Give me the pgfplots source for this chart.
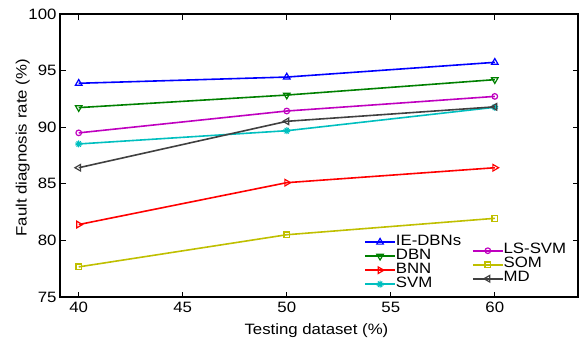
\documentclass[border=0pt]{standalone}
\usepackage{fontspec}
\setmainfont{Liberation Sans}[FakeStretch=1.12]
\usepackage{pgfplots}
\pgfplotsset{compat=1.18}
\usetikzlibrary{plotmarks}
\definecolor{mblue}{rgb}{0,0,1}
\definecolor{mgreen}{rgb}{0,0.5,0}
\definecolor{mred}{rgb}{1,0,0}
\definecolor{mcyan}{rgb}{0,0.75,0.75}
\definecolor{mmag}{rgb}{0.75,0,0.75}
\definecolor{molive}{rgb}{0.75,0.75,0}
\definecolor{mgray}{rgb}{0.25,0.25,0.25}
\pgfplotsset{
  common/.style={
    at={(0,0)}, anchor=south west,
    scale only axis, width=518pt, height=283pt,
    xmin=39.1, xmax=64, ymin=75, ymax=100,
    xtick={40,45,...,60}, ytick={75,80,...,100},
    tick align=inside, major tick length=5.5pt,
    axis line style={line width=2pt},
    every tick/.style={black, line width=1.3pt},
    tick label style={font=\fontsize{15}{17}\selectfont},
    xticklabel style={yshift=-1.5pt},
    label style={font=\fontsize{15}{17}\selectfont},
    /pgf/number format/assume math mode=true,
    every axis plot/.append style={line width=1.6pt},
    legend image code/.code={\draw[mark repeat=2,mark phase=2,##1] plot coordinates {(0pt,0pt) (15pt,0pt) (30pt,0pt)};},
    legend cell align=left,
  },
  leg/.style={legend style={draw=none, fill=none, inner sep=0pt, at={#1}, anchor=north west,
    font=\fontsize{15}{16}\selectfont,
    nodes={inner sep=0pt, text height=10pt, text depth=4pt},
    /tikz/every even column/.append style={column sep=4pt}}},
}
\begin{document}
\begin{tikzpicture}
\begin{axis}[common, leg={(0.587,0.219)},
  xlabel={Testing dataset (\%)}, ylabel={Fault diagnosis rate (\%)},
  xlabel style={at={(axis description cs:0.495,-0.095)}, anchor=north, inner sep=0pt},
  ylabel style={at={(axis description cs:-0.0579,0.527)}, anchor=south, inner sep=0pt}]
\addplot[color=mblue, mark=triangle, mark size=3.8pt, mark options={solid, line width=1.2pt}] coordinates {(40,93.88) (50,94.43) (60,95.73)};
\addlegendentry{IE-DBNs}
\addplot[color=mgreen, mark=triangle, mark size=3.8pt, mark options={solid, rotate=180, line width=1.2pt}] coordinates {(40,91.73) (50,92.84) (60,94.2)};
\addlegendentry{DBN}
\addplot[color=mred, mark=triangle, mark size=3.8pt, mark options={solid, rotate=-90, line width=1.2pt}] coordinates {(40,81.4) (50,85.1) (60,86.42)};
\addlegendentry{BNN}
\addplot[color=mcyan, mark=10-pointed star, mark size=3.5pt, mark options={solid, fill=mcyan, line width=1pt}] coordinates {(40,88.52) (50,89.69) (60,91.76)};
\addlegendentry{SVM}
\end{axis}
\begin{axis}[common, hide axis, leg={(0.795,0.189)}]
\addplot[color=mmag, mark=o, mark size=2.8pt, mark options={solid, line width=1.2pt}] coordinates {(40,89.5) (50,91.43) (60,92.72)};
\addlegendentry{LS-SVM}
\addplot[color=molive, mark=square, mark size=2.8pt, mark options={solid, line width=1.2pt}] coordinates {(40,77.66) (50,80.5) (60,81.95)};
\addlegendentry{SOM}
\addplot[color=mgray, mark=triangle, mark size=3.8pt, mark options={solid, rotate=90, line width=1.2pt}] coordinates {(40,86.42) (50,90.52) (60,91.8)};
\addlegendentry{MD}
\end{axis}
\pgfresetboundingbox
\path[use as bounding box] (-60pt,-46pt) rectangle (520pt,297pt);
\end{tikzpicture}
\end{document}
